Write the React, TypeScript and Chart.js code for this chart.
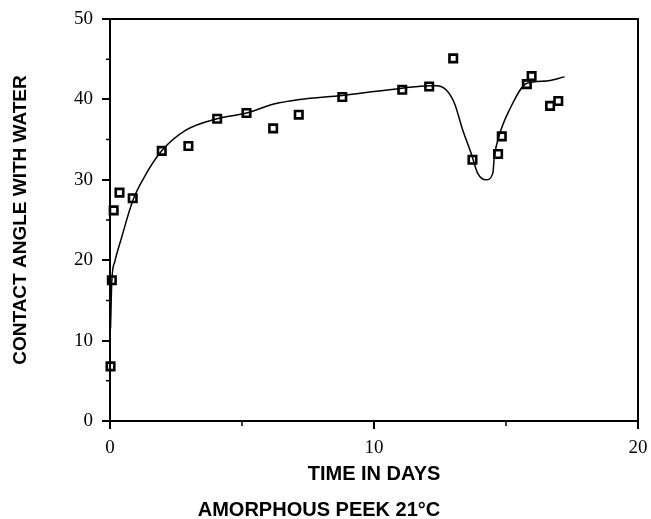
import React, { useEffect, useRef } from 'react';
import { Chart, registerables } from 'chart.js';

Chart.register(...registerables);

// Measured contact angles (days, degrees)
const obsDays = [0.02, 0.07, 0.14, 0.36, 0.86, 1.96, 2.97, 4.06, 5.17, 6.18, 7.15, 8.8, 11.07, 12.09, 13.0, 13.73, 14.7, 14.84, 15.79, 15.97, 16.67, 16.98];
const obsAngle = [6.8, 17.5, 26.2, 28.4, 27.7, 33.6, 34.2, 37.6, 38.3, 36.4, 38.1, 40.3, 41.2, 41.6, 45.1, 32.5, 33.2, 35.4, 41.9, 42.9, 39.2, 39.8];

// Hand-drawn fitted curve
const fitDays = [0.02, 0.07, 0.18, 0.42, 0.86, 1.24, 1.96, 2.89, 4.06, 5.17, 6.17, 7.18, 8.8, 11.07, 12.09, 12.36, 12.73, 13.05, 13.36, 13.68, 13.93, 14.25, 14.5, 14.56, 14.75, 15.13, 15.79, 16.52, 17.22];
const fitAngle = [11.5, 17.5, 19.8, 22.6, 27.4, 30.0, 33.6, 36.2, 37.6, 38.3, 39.4, 40.0, 40.5, 41.4, 41.7, 41.7, 41.2, 39.5, 36.2, 33.3, 30.8, 30.0, 30.8, 32.9, 35.6, 38.7, 42.0, 42.3, 42.8];

const xMajorTicks = [0, 10, 20];
const yMajorTicks = [0, 10, 20, 30, 40, 50];
const xMinorTicks = [5, 15];
const yMinorTicks = [5, 15, 25, 35, 45];

const xTitle = 'TIME IN DAYS';
const yTitle = 'CONTACT ANGLE WITH WATER';
const caption = 'AMORPHOUS PEEK 21°C';

const framePlugin = {
  id: 'frameAndMinorTicks',
  afterDraw(chart: any) {
    const { ctx, chartArea: a, scales } = chart;
    ctx.save();
    ctx.strokeStyle = '#000';
    ctx.lineWidth = 2;
    ctx.strokeRect(a.left, a.top, a.right - a.left, a.bottom - a.top);
    ctx.lineWidth = 1.5;
    ctx.beginPath();
    for (const v of xMinorTicks) {
      const px = scales.x.getPixelForValue(v);
      ctx.moveTo(px, a.bottom);
      ctx.lineTo(px, a.bottom + 5);
    }
    for (const v of yMinorTicks) {
      const py = scales.y.getPixelForValue(v);
      ctx.moveTo(a.left, py);
      ctx.lineTo(a.left - 4, py);
    }
    ctx.stroke();
    ctx.restore();
  },
};

export default function App() {
  const ref = useRef<HTMLCanvasElement | null>(null);

  useEffect(() => {
    document.body.style.margin = '0';
    const canvas = ref.current;
    if (!canvas) return;
    const serif = { family: '"Liberation Serif", "Times New Roman", serif', size: 19 };
    const chart = new Chart(canvas, {
      type: 'scatter',
      data: {
        datasets: [
          {
            type: 'line',
            label: 'fit',
            data: fitDays.map((d, i) => ({ x: d, y: fitAngle[i] })),
            borderColor: '#000',
            borderWidth: 1.5,
            pointRadius: 0,
            cubicInterpolationMode: 'monotone',
            fill: false,
            clip: false,
          } as any,
          {
            label: 'measured',
            data: obsDays.map((d, i) => ({ x: d, y: obsAngle[i] })),
            pointStyle: 'rect',
            pointRadius: 5.3,
            pointBorderWidth: 2.6,
            pointBorderColor: '#000',
            pointBackgroundColor: '#fff',
            clip: false,
          } as any,
          {
            label: 'measured-center',
            data: obsDays.map((d, i) => ({ x: d, y: obsAngle[i] })),
            pointStyle: 'rect',
            pointRadius: 1.3,
            pointBorderWidth: 0,
            pointBackgroundColor: '#000',
            clip: false,
          } as any,
        ],
      },
      options: {
        animation: false,
        responsive: false,
        layout: { padding: { top: 19, right: 13, left: 0, bottom: 0 } },
        plugins: {
          legend: { display: false },
          tooltip: { enabled: false },
          title: {
            display: true,
            position: 'bottom',
            text: caption,
            color: '#000',
            font: { family: '"Liberation Sans", Arial, sans-serif', size: 20, weight: 'bold', lineHeight: '18px' },
            padding: { top: 0, bottom: 0 },
          },
        },
        scales: {
          x: {
            type: 'linear',
            min: 0,
            max: 20,
            afterBuildTicks: (s: any) => {
              s.ticks = xMajorTicks.map((v) => ({ value: v }));
            },
            afterFit: (s: any) => {
              s.height = 80;
              s.paddingRight = 0;
              s.paddingLeft = 0;
            },
            grid: { drawOnChartArea: false, drawTicks: true, tickLength: 8, lineWidth: 2, color: '#000' },
            border: { display: true, color: '#000', width: 2 },
            ticks: { color: '#000', font: serif, padding: 8, maxRotation: 0 },
            title: {
              display: true,
              text: xTitle,
              color: '#000',
              font: { family: '"Liberation Sans", Arial, sans-serif', size: 20, weight: 'bold', lineHeight: '18px' },
              padding: { top: 0, bottom: 17.5 },
            },
          },
          y: {
            type: 'linear',
            min: 0,
            max: 50,
            afterBuildTicks: (s: any) => {
              s.ticks = yMajorTicks.map((v) => ({ value: v }));
            },
            afterFit: (s: any) => {
              s.width = 110;
              s.paddingTop = 0;
              s.paddingBottom = 0;
            },
            grid: { drawOnChartArea: false, drawTicks: true, tickLength: 8, lineWidth: 2, color: '#000' },
            border: { display: true, color: '#000', width: 2 },
            ticks: { color: '#000', font: serif, padding: 9 },
            title: {
              display: true,
              text: yTitle,
              color: '#000',
              font: { family: '"Liberation Sans", Arial, sans-serif', size: 19, weight: 'bold', lineHeight: '16px' },
              padding: { top: 13, bottom: 0 },
            },
          },
        },
      } as any,
      plugins: [framePlugin],
    });
    return () => chart.destroy();
  }, []);

  return <canvas ref={ref} width={651} height={519} style={{ display: 'block' }} />;
}
